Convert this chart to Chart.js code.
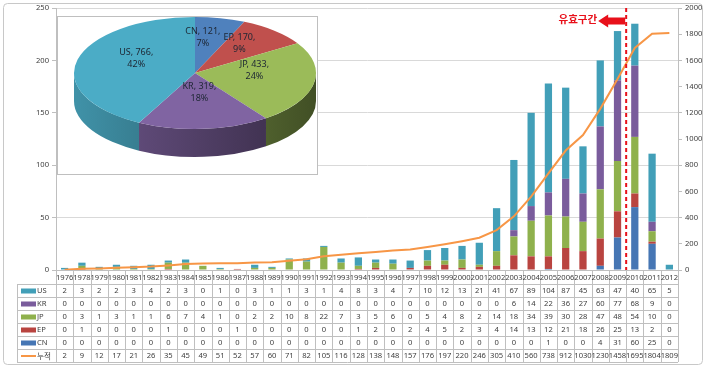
<!DOCTYPE html>
<html>
<head>
<meta charset="utf-8">
<script src="https://cdn.jsdelivr.net/npm/chart.js@4.4.0/dist/chart.umd.min.js"></script>
<style>
  html, body { margin: 0; padding: 0; background: #fff; }
  #wrap { position: relative; width: 705px; height: 370px; }
  #main { position: absolute; left: 0; top: 0; }
  #pie { position: absolute; left: 57px; top: 16px; }
</style>
</head>
<body>
<div id="wrap">
  <canvas id="main" width="705" height="370"></canvas>
  <canvas id="pie" width="261" height="159"></canvas>
</div>
<script>
// data
const years = ['1976','1978','1979','1980','1981','1982','1983','1984','1985','1986','1987','1988',
  '1989','1990','1991','1992','1993','1994','1995','1996','1997','1998','1999','2000',
  '2001','2002','2003','2004','2005','2006','2007','2008','2009','2010','2011','2012'];
const us = [2,3,2,2,3,4,2,3,0,1,0,3,1,1,3,1,4,8,3,4,7,10,12,13,21,41,67,89,104,87,45,63,47,40,65,5];
const kr = [0,0,0,0,0,0,0,0,0,0,0,0,0,0,0,0,0,0,0,0,0,0,0,0,0,0,6,14,22,36,27,60,77,68,9,0];
const jp = [0,3,1,3,1,1,6,7,4,1,0,2,2,10,8,22,7,3,5,6,0,5,4,8,2,14,18,34,39,30,28,47,48,54,10,0];
const ep = [0,1,0,0,0,0,1,0,0,0,1,0,0,0,0,0,0,1,2,0,2,4,5,2,3,4,14,13,12,21,18,26,25,13,2,0];
const cn = [0,0,0,0,0,0,0,0,0,0,0,0,0,0,0,0,0,0,0,0,0,0,0,0,0,0,0,0,1,0,0,4,31,60,25,0];
const cumul = [2,9,12,17,21,26,35,45,49,51,52,57,60,71,82,105,116,128,138,148,157,176,197,220,
  246,305,410,560,738,912,1030,1230,1458,1695,1804,1809];

const pieLabels = ['CN', 'EP', 'JP', 'KR', 'US'];
const pieValues = [121, 170, 433, 319, 766];

const markLabel = '유효구간';
const markAfter = '2009'; // dashed line sits right after this year

// colours
const colUS = '#4BACC6', colKR = '#8064A2', colJP = '#9BBB59', colEP = '#C0504D', colCN = '#4F81BD';
const barUS = '#429FB8', barKR = '#7A5C9C', barJP = '#8FB14D', barEP = '#B94440', barCN = '#4676B4';
const colLine = '#F79646';
const gridCol = '#d9d9d9', lineCol = '#bfbfbf', textCol = '#404040';

Chart.defaults.font.family = "'Noto Sans', 'Noto Sans CJK KR', sans-serif";
Chart.defaults.color = textCol;

function shade(hex, f) {
    const n = parseInt(hex.slice(1), 16);
    const r = (n >> 16) & 255, g = (n >> 8) & 255, b = n & 255;
    return `rgb(${Math.round(r * f)},${Math.round(g * f)},${Math.round(b * f)})`;
}

// white background + rounded outer frame
const framePlugin = {
    id: 'frame',
    beforeDraw(chart) {
        const ctx = chart.ctx;
        ctx.save();
        ctx.fillStyle = '#fff';
        ctx.fillRect(0, 0, chart.width, chart.height);
        ctx.strokeStyle = '#c8c8c8';
        ctx.lineWidth = 1;
        ctx.beginPath();
        ctx.roundRect(3.5, 3.5, 699, 361, 4);
        ctx.stroke();
        ctx.restore();
    }
};

// excel style data table under the plot
const tablePlugin = {
    id: 'dataTable',
    afterDraw(chart) {
        const ctx = chart.ctx;
        const area = chart.chartArea;
        const xs = chart.scales.x;
        const w = (area.right - area.left) / years.length;
        const top = area.bottom, headH = 14, rowH = 13;
        const keyLeft = 17;
        const rows = [
            { name: 'US', data: us, color: barUS },
            { name: 'KR', data: kr, color: barKR },
            { name: 'JP', data: jp, color: barJP },
            { name: 'EP', data: ep, color: barEP },
            { name: 'CN', data: cn, color: barCN },
            { name: '누적', data: cumul, color: colLine, line: true }
        ];
        const bottom = top + headH + rows.length * rowH;

        ctx.save();
        ctx.strokeStyle = lineCol;
        ctx.lineWidth = 1;
        ctx.beginPath();
        for (let k = 0; k <= years.length; k++) {
            const x = Math.round(area.left + k * w) + 0.5;
            ctx.moveTo(x, top);
            ctx.lineTo(x, bottom);
        }
        ctx.moveTo(keyLeft + 0.5, top + headH);
        ctx.lineTo(keyLeft + 0.5, bottom);
        for (let r = 0; r <= rows.length; r++) {
            const y = top + headH + r * rowH + 0.5;
            ctx.moveTo(keyLeft, y);
            ctx.lineTo(area.right, y);
        }
        ctx.stroke();

        ctx.fillStyle = textCol;
        ctx.textAlign = 'center';
        ctx.textBaseline = 'middle';
        ctx.font = "7.6px 'Noto Sans', sans-serif";
        years.forEach((yr, i) => {
            ctx.fillText(yr, xs.getPixelForValue(i), top + headH / 2 + 0.5);
        });

        rows.forEach((row, r) => {
            const cy = top + headH + r * rowH + rowH / 2 + 0.5;
            ctx.fillStyle = textCol;
            ctx.textAlign = 'center';
            row.data.forEach((v, i) => {
                ctx.fillText(String(v), xs.getPixelForValue(i), cy);
            });
            // legend key
            if (row.line) {
                ctx.strokeStyle = row.color;
                ctx.lineWidth = 2;
                ctx.beginPath();
                ctx.moveTo(21, cy);
                ctx.lineTo(36, cy);
                ctx.stroke();
            } else {
                ctx.fillStyle = row.color;
                ctx.fillRect(21, cy - 2.5, 15, 5);
            }
            ctx.fillStyle = textCol;
            ctx.textAlign = 'left';
            ctx.font = row.line ? "7.6px 'Noto Sans CJK KR', sans-serif" : "7.6px 'Noto Sans', sans-serif";
            ctx.fillText(row.name, 37, cy);
            ctx.font = "7.6px 'Noto Sans', sans-serif";
        });
        ctx.restore();
    }
};

// dashed boundary with the arrow label
const markerPlugin = {
    id: 'marker',
    afterDatasetsDraw(chart) {
        const ctx = chart.ctx;
        const xs = chart.scales.x;
        const i = years.indexOf(markAfter);
        const x = (xs.getPixelForValue(i) + xs.getPixelForValue(i + 1)) / 2;
        ctx.save();
        ctx.strokeStyle = '#e8101a';
        ctx.lineWidth = 2;
        ctx.setLineDash([4, 3]);
        ctx.beginPath();
        ctx.moveTo(x, 8);
        ctx.lineTo(x, chart.chartArea.bottom);
        ctx.stroke();
        ctx.setLineDash([]);

        // block arrow pointing left
        const tip = x - 28, ay = 21;
        ctx.fillStyle = '#e8101a';
        ctx.beginPath();
        ctx.moveTo(tip, ay);
        ctx.lineTo(tip + 10, ay - 6.5);
        ctx.lineTo(tip + 10, ay - 3.5);
        ctx.lineTo(x - 1, ay - 3.5);
        ctx.lineTo(x - 1, ay + 3.5);
        ctx.lineTo(tip + 10, ay + 3.5);
        ctx.lineTo(tip + 10, ay + 6.5);
        ctx.closePath();
        ctx.fill();

        ctx.font = "bold 10.5px 'Noto Sans CJK KR', sans-serif";
        ctx.textAlign = 'right';
        ctx.textBaseline = 'middle';
        ctx.fillText(markLabel, tip - 1, ay - 2);
        ctx.restore();
    }
};

new Chart(document.getElementById('main'), {
    type: 'bar',
    data: {
        labels: years,
        datasets: [
            { type: 'line', label: '누적', data: cumul, yAxisID: 'y1', borderColor: colLine,
              borderWidth: 2, pointRadius: 0, tension: 0, order: 0 },
            { label: 'CN', data: cn, backgroundColor: barCN, order: 1 },
            { label: 'EP', data: ep, backgroundColor: barEP, order: 1 },
            { label: 'JP', data: jp, backgroundColor: barJP, order: 1 },
            { label: 'KR', data: kr, backgroundColor: barKR, order: 1 },
            { label: 'US', data: us, backgroundColor: barUS, order: 1 }
        ]
    },
    options: {
        responsive: false,
        animation: false,
        layout: { padding: { left: 16, right: 0, top: 8, bottom: 100 } },
        plugins: { legend: { display: false }, tooltip: { enabled: false } },
        datasets: { bar: { categoryPercentage: 1, barPercentage: 0.42 } },
        scales: {
            x: {
                stacked: true,
                grid: { display: false, drawTicks: false },
                ticks: { display: false },
                border: { color: lineCol },
                afterFit: (s) => { s.height = 0; }
            },
            y: {
                stacked: true, min: 0, max: 250,
                ticks: { stepSize: 50, font: { size: 7.6 }, padding: 3 },
                grid: { color: gridCol, tickLength: 4, tickColor: lineCol },
                border: { color: lineCol },
                afterFit: (s) => { s.width = 40; }
            },
            y1: {
                position: 'right', min: 0, max: 2000,
                ticks: { stepSize: 200, font: { size: 7.6 }, padding: 3, callback: (v) => String(v) },
                grid: { drawOnChartArea: false, tickLength: 4, color: lineCol },
                border: { color: lineCol },
                afterFit: (s) => { s.width = 27; }
            }
        }
    },
    plugins: [framePlugin, tablePlugin, markerPlugin]
});

// ---- 3D looking pie inset ----
const pieGeo = { cx: 138, cy: 57, rx: 121, ry: 56, depth: 28 };
const pieTotal = pieValues.reduce((a, b) => a + b, 0);

const pie3dPlugin = {
    id: 'pie3d',
    beforeDraw(chart) {
        const ctx = chart.ctx;
        ctx.save();
        ctx.fillStyle = '#fff';
        ctx.fillRect(0, 0, chart.width, chart.height);
        ctx.strokeStyle = lineCol;
        ctx.strokeRect(0.5, 0.5, chart.width - 1, chart.height - 1);
        ctx.restore();
    },
    beforeDatasetsDraw(chart) {
        const ctx = chart.ctx;
        const { cx, cy, rx, ry, depth } = pieGeo;
        const arcs = chart.getDatasetMeta(0).data;
        const colors = chart.data.datasets[0].backgroundColor;
        arcs.forEach((arc, i) => {
            const a1 = Math.max(arc.startAngle, 0);
            const a2 = Math.min(arc.endAngle, Math.PI);
            if (a2 <= a1) return;
            const g = ctx.createLinearGradient(cx - rx, 0, cx + rx, 0);
            g.addColorStop(0, shade(colors[i], 0.85));
            g.addColorStop(1, shade(colors[i], 0.42));
            ctx.fillStyle = g;
            ctx.beginPath();
            ctx.ellipse(cx, cy, rx, ry, 0, a1, a2);
            ctx.ellipse(cx, cy + depth, rx, ry, 0, a2, a1, true);
            ctx.closePath();
            ctx.fill();
        });
        const a0 = arcs[0];
        ctx.save();
        ctx.translate(cx, cy);
        ctx.scale(rx / a0.outerRadius, ry / a0.outerRadius);
        ctx.translate(-a0.x, -a0.y);
    },
    afterDatasetsDraw(chart) {
        const ctx = chart.ctx;
        ctx.restore();
        const { cx, cy, rx, ry } = pieGeo;
        const arcs = chart.getDatasetMeta(0).data;
        ctx.save();
        ctx.fillStyle = '#1d2633';
        ctx.font = "9px 'Noto Sans', sans-serif";
        ctx.textAlign = 'center';
        ctx.textBaseline = 'middle';
        // label boxes at half radius, then push overlapping neighbours apart
        const boxes = arcs.map((arc, i) => {
            const mid = (arc.startAngle + arc.endAngle) / 2;
            const line1 = `${pieLabels[i]}, ${pieValues[i]},`;
            const line2 = `${Math.round(pieValues[i] / pieTotal * 100)}%`;
            return {
                x: cx + rx * 0.5 * Math.cos(mid),
                y: cy + ry * 0.5 * Math.sin(mid) - 8,
                w: Math.max(ctx.measureText(line1).width, ctx.measureText(line2).width),
                line1, line2
            };
        });
        for (let i = 0; i < boxes.length - 1; i++) {
            const a = boxes[i], b = boxes[i + 1];
            if (Math.abs(a.y - b.y) > 22) continue;
            const gap = (b.x - a.x) - (a.w + b.w) / 2 - 3;
            if (gap < 0) { a.x += gap / 2; b.x -= gap / 2; }
        }
        boxes.forEach((b) => {
            ctx.fillText(b.line1, b.x, b.y - 6);
            ctx.fillText(b.line2, b.x, b.y + 6);
        });
        ctx.restore();
    }
};

new Chart(document.getElementById('pie'), {
    type: 'pie',
    data: {
        labels: pieLabels,
        datasets: [{
            data: pieValues,
            backgroundColor: [colCN, colEP, colJP, colKR, colUS],
            borderWidth: 0,
            clip: false
        }]
    },
    options: {
        responsive: false,
        animation: false,
        plugins: { legend: { display: false }, tooltip: { enabled: false } }
    },
    plugins: [pie3dPlugin]
});
</script>
</body>
</html>
